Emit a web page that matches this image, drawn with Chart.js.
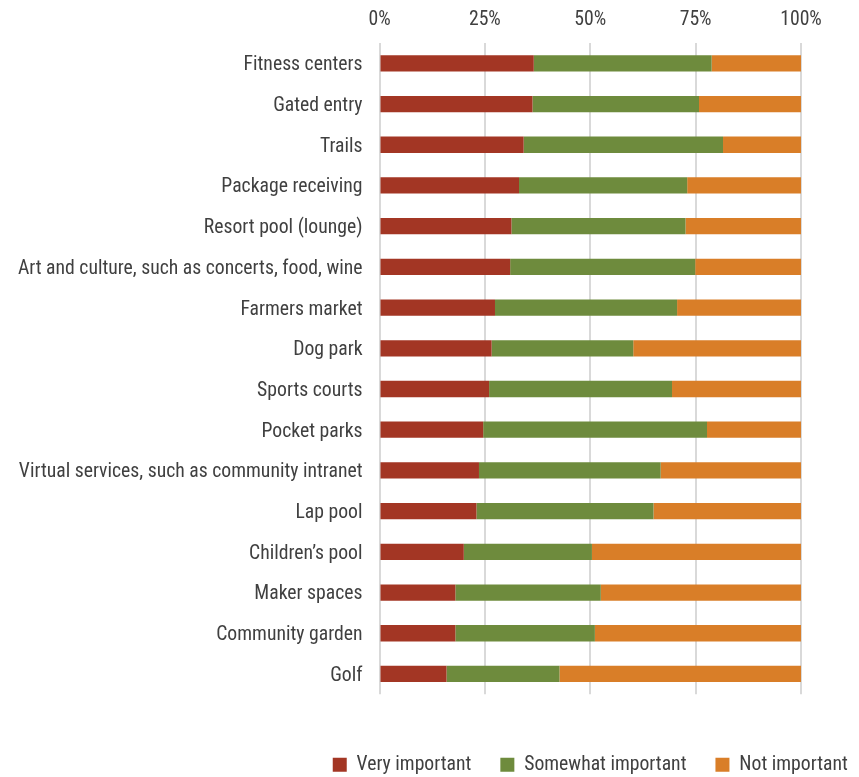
<!DOCTYPE html>
<html>
<head>
<meta charset="utf-8">
<script src="https://cdn.jsdelivr.net/npm/chart.js@4/dist/chart.umd.min.js"></script>
<style>
  html, body { margin: 0; padding: 0; background: #ffffff; }
  #wrap { width: 859px; height: 777px; }
</style>
</head>
<body>
<div id="wrap"><canvas id="c" width="859" height="777"></canvas></div>
<script>
const categories = [
  'Fitness centers',
  'Gated entry',
  'Trails',
  'Package receiving',
  'Resort pool (lounge)',
  'Art and culture, such as concerts, food, wine',
  'Farmers market',
  'Dog park',
  'Sports courts',
  'Pocket parks',
  'Virtual services, such as community intranet',
  'Lap pool',
  'Children\u2019s pool',
  'Maker spaces',
  'Community garden',
  'Golf'
];
const veryImportant     = [36.6, 36.3, 34.2, 33.1, 31.3, 31.0, 27.4, 26.6, 26.0, 24.6, 23.6, 23.0, 20.0, 18.0, 18.0, 15.9];
const somewhatImportant = [42.2, 39.5, 47.3, 39.9, 41.3, 43.9, 43.2, 33.6, 43.4, 53.1, 43.1, 42.0, 30.4, 34.5, 33.1, 26.8];
const notImportant      = [21.2, 24.2, 18.5, 27.0, 27.4, 25.1, 29.4, 39.8, 30.6, 22.3, 33.3, 35.0, 49.6, 47.5, 48.9, 57.3];
const seriesNames = ['Very important', 'Somewhat important', 'Not important'];
const xTicks = [0, 25, 50, 75, 100];

const FONT = '"Roboto Condensed", "Liberation Sans Narrow", sans-serif';
const TEXT = '#404040';
const FS = 19.7;
Chart.defaults.font.family = FONT;
Chart.defaults.color = TEXT;

const legendPlacer = {
  id: 'legendPlacer',
  afterLayout(chart) {
    const lg = chart.legend;
    const ca = chart.chartArea;
    const cx = (ca.left + ca.right) / 2;
    const dx = cx - (lg.left + lg.right) / 2;
    lg.left += dx; lg.right += dx;
    const h = lg.bottom - lg.top;
    lg.top = 726; lg.bottom = lg.top + h;
  }
};

new Chart(document.getElementById('c'), {
  type: 'bar',
  data: {
    labels: categories,
    datasets: [
      { label: seriesNames[0], data: veryImportant,     backgroundColor: '#A33624' },
      { label: seriesNames[1], data: somewhatImportant, backgroundColor: '#6E8B3D' },
      { label: seriesNames[2], data: notImportant,      backgroundColor: '#D97E28' }
    ]
  },
  options: {
    indexAxis: 'y',
    responsive: false,
    animation: false,
    devicePixelRatio: 1,
    layout: { padding: { left: 0, right: 58, top: 0, bottom: 24 } },
    datasets: { bar: { barPercentage: 0.4, categoryPercentage: 1.0, borderWidth: 0 } },
    scales: {
      x: {
        position: 'top',
        stacked: true,
        min: 0, max: 100,
        afterBuildTicks(scale) { scale.ticks = xTicks.map(v => ({ value: v })); },
        afterFit(scale) { scale.height = 43; },
        ticks: {
          callback: v => v + '%',
          font: { size: FS },
          color: TEXT,
          padding: 11
        },
        grid: { color: '#d9d9d9', lineWidth: 2, drawTicks: false },
        border: { display: false }
      },
      y: {
        stacked: true,
        afterFit(scale) { scale.width = 379.5; },
        ticks: { font: { size: FS }, color: TEXT, padding: 17, labelOffset: 2 },
        grid: { display: false, drawTicks: false },
        border: { display: false }
      }
    },
    plugins: {
      legend: {
        position: 'bottom',
        labels: {
          boxWidth: 14, boxHeight: 14, padding: 29,
          font: { size: FS }, color: TEXT
        }
      },
      tooltip: { enabled: false }
    }
  },
  plugins: [legendPlacer]
});
</script>
</body>
</html>
